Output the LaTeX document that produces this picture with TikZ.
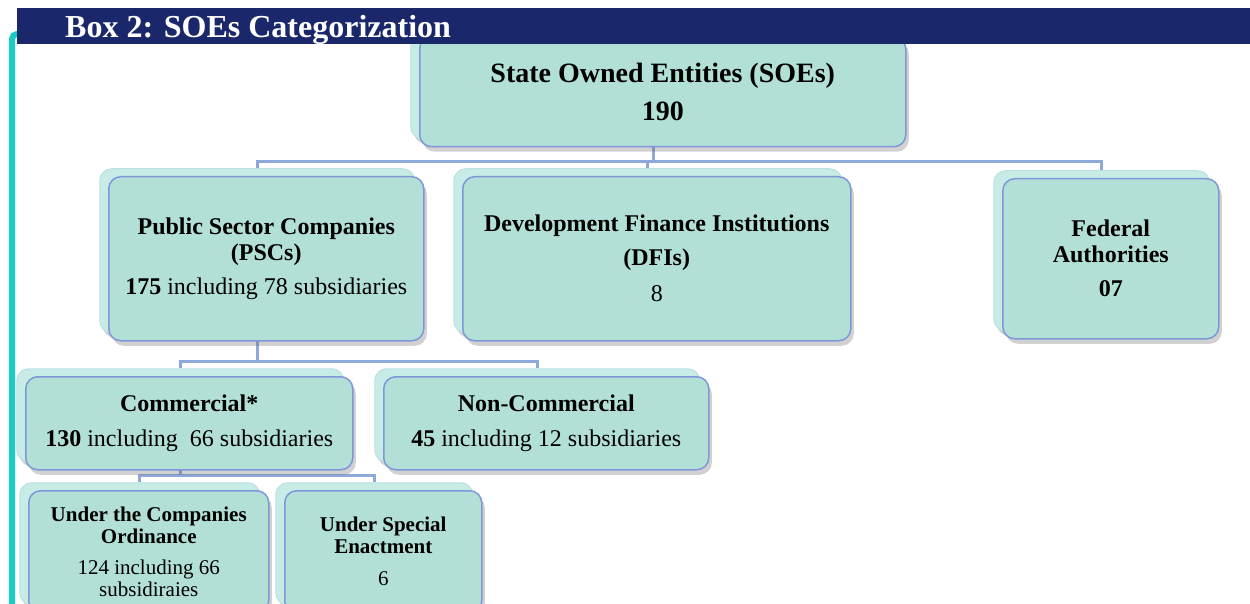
\documentclass[tikz,border=0pt]{standalone}
\usepackage{fontspec}
\setmainfont{Liberation Serif}
\usetikzlibrary{shadows,backgrounds}
\definecolor{mint}{HTML}{B2E0D7}
\definecolor{mintlight}{HTML}{C6ECE5}
\definecolor{boxline}{HTML}{7F97D8}
\definecolor{connline}{HTML}{8EA8DC}
\definecolor{navy}{HTML}{1B276B}
\definecolor{tealbar}{HTML}{17CBC6}
\tikzset{
  box/.style={draw=boxline, line width=1.5pt, fill=mint, rounded corners=12pt,
    align=center, inner sep=2pt, anchor=north west, text=black,
    drop shadow={shadow xshift=-6pt, shadow yshift=3pt, opacity=0.3, fill=black!60},
    drop shadow={shadow xshift=3pt, shadow yshift=-5pt, opacity=0.3, fill=black!60},
    copy shadow={shadow xshift=-9pt, shadow yshift=8pt, fill=mintlight, draw=mintlight!85!boxline, line width=1pt}},
  big/.style={font=\fontsize{24}{26}\selectfont},
  small/.style={font=\fontsize{21}{22}\selectfont},
  conn/.style={draw=connline, line width=3pt},
}
\begin{document}
\begin{tikzpicture}[x=1pt,y=-1pt]
\useasboundingbox (0,0) rectangle (1250,604);
\clip (0,0) rectangle (1250,604);
% boxes
\node[box, minimum width=486pt, minimum height=110pt, font=\fontsize{28}{32}\selectfont] (soe) at (419,36)
  {\textbf{State Owned Entities (SOEs)}\\[6pt]\textbf{190}};
\node[box, big, minimum width=315pt, minimum height=164pt] (psc) at (108,176)
  {\textbf{Public Sector Companies}\\\textbf{(PSCs)}\\[8pt]\textbf{175} including 78 subsidiaries};
\node[box, big, minimum width=388pt, minimum height=164pt] (dfi) at (462,176)
  {\textbf{Development Finance Institutions}\\[8pt]\textbf{(DFIs)}\\[10pt]8};
\node[box, big, minimum width=216pt, minimum height=160pt] (fed) at (1002,178)
  {\textbf{Federal}\\\textbf{Authorities}\\[8pt]\textbf{07}};
\node[box, big, minimum width=327pt, minimum height=93pt] (comm) at (25,376)
  {\textbf{Commercial*}\\[9pt]\textbf{130} including\ \ 66 subsidiaries};
\node[box, big, minimum width=325pt, minimum height=93pt] (ncom) at (383,376)
  {\textbf{Non-Commercial}\\[9pt]\textbf{45} including 12 subsidiaries};
\node[box, small, minimum width=240pt, minimum height=122pt] (uco) at (28,490)
  {\textbf{Under the Companies}\\\textbf{Ordinance}\\[9pt]124 including 66\\subsidiraies};
\node[box, small, minimum width=197pt, minimum height=122pt] (sea) at (284,490)
  {\textbf{Under Special}\\\textbf{Enactment}\\[10pt]6};
% connectors
\begin{pgfonlayer}{background}
\coordinate (soeb) at ([shift={(-9pt,8pt)}]soe.south);
\coordinate (psct) at ([shift={(-9pt,8pt)}]psc.north);
\coordinate (pscb) at ([shift={(-9pt,8pt)}]psc.south);
\coordinate (dfit) at ([shift={(-9pt,8pt)}]dfi.north);
\coordinate (fedt) at ([shift={(-9pt,8pt)}]fed.north);
\coordinate (commt) at ([shift={(-9pt,8pt)}]comm.north);
\coordinate (commb) at ([shift={(-9pt,8pt)}]comm.south);
\coordinate (ncomt) at ([shift={(-9pt,8pt)}]ncom.north);
\coordinate (ucot) at ([shift={(-9pt,8pt)}]uco.north);
\coordinate (seat) at ([shift={(-9pt,8pt)}]sea.north);
\draw[conn] (soeb) -- ++(0,22) coordinate (j1);
\draw[conn] (psct) |- (j1) -| (fedt);
\draw[conn] (dfit) -- (dfit |- j1);
\draw[conn] (pscb) -- ++(0,28) coordinate (j2);
\draw[conn] (commt) |- (j2) -| (ncomt);
\draw[conn] (commb) -- ++(0,13) coordinate (j3);
\draw[conn] (ucot) |- (j3) -| (seat);
\end{pgfonlayer}
% left teal line and header
\draw[tealbar, line width=6pt, rounded corners=5pt] (12,610) -- (12,34) -- (24,34);
\fill[navy] (17,8) rectangle (1250,44);
\node[anchor=base west, text=white, inner sep=0pt, font=\fontsize{32}{36}\selectfont\bfseries] (title) at (65,38) {Box 2: SOEs Categorization};
\end{tikzpicture}
\end{document}
